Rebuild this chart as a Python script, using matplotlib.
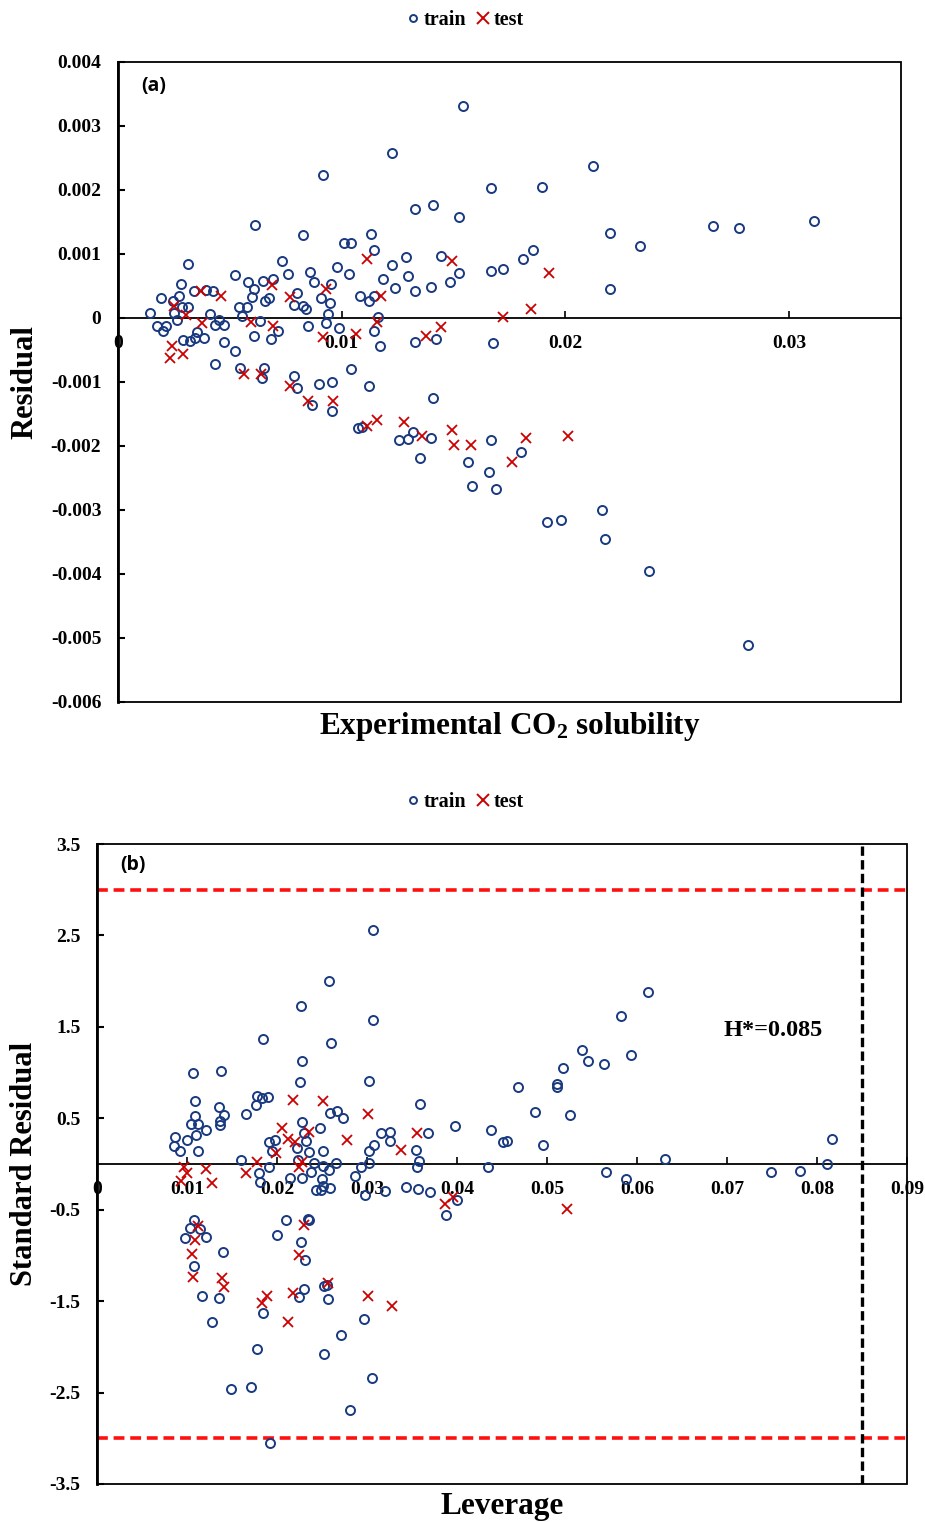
import matplotlib
matplotlib.use('Agg')
import matplotlib.pyplot as plt
from matplotlib.lines import Line2D
from matplotlib.patches import Rectangle

plt.rcParams['mathtext.fontset'] = 'custom'
plt.rcParams['mathtext.rm'] = 'Liberation Serif:bold'
plt.rcParams['mathtext.it'] = 'Liberation Serif:bold'
plt.rcParams['mathtext.bf'] = 'Liberation Serif:bold'

# ---------------- Panel (a) data ----------------
a_train_x = [0.00143,0.00173,0.00202,0.00214,0.00192,0.00244,0.00251,0.00262,0.00274,0.00281,
             0.00286,0.00314,0.00311,0.00292,0.00321,0.00344,0.00353,0.00383,0.00341,0.00393,
             0.00423,0.00412,0.00433,0.00452,0.00475,0.00475,0.00434,0.00522,0.00524,0.00542,
             0.00554,0.00576,0.00583,0.00597,0.00606,0.00606,0.00634,0.00646,0.00656,0.00675,
             0.00686,0.00695,0.00716,0.00735,0.00758,0.00787,0.00799,0.00643,0.00653,0.00545,
             0.00787,0.00798,0.00612,
             0.00827,0.00917,0.00827,0.00842,0.00850,0.00858,0.00876,0.00908,0.00929,0.00939,
             0.00949,0.00951,0.00981,0.00989,0.01010,0.01043,0.01031,0.01082,0.01122,0.01144,
             0.01133,0.01144,0.01164,0.01144,0.01171,0.01184,0.01226,0.01238,0.01286,0.01296,
             0.01327,0.01399,0.01442,0.01482,0.01524,0.01667,0.01719,0.01811,0.01854,0.01327,
             0.01420,0.01677,0.01226,0.01542,0.01667,0.01896,0.01327,0.01409,0.01524,
             0.01040,0.00899,0.00958,0.01122,0.01409,0.00866,0.00958,0.01073,0.01092,0.01256,
             0.01296,0.01318,0.01400,0.01350,0.01667,0.01564,0.01658,0.01802,
             0.02124,0.02659,0.02775,0.03113,0.02198,0.02335,0.02198,0.01583,0.01689,0.02165,
             0.01917,0.01979,0.02175,0.02375,0.02818]
a_train_y = [0.000073,-0.000125,-0.000198,-0.00012,0.000308,0.00027,0.000073,-0.000031,0.000344,0.000527,
             0.000177,0.000177,0.000839,-0.000344,-0.000359,-0.000317,-0.000214,-0.000308,0.000427,0.000438,
             0.000422,0.000058,-0.000109,-0.000031,-0.000109,-0.00037,-0.000719,0.000667,-0.000511,0.000167,
             0.000031,0.000167,0.000567,0.000323,0.000453,-0.000277,-0.000042,0.000578,0.000266,0.000308,
             -0.000333,0.000605,-0.000203,0.000891,0.000683,0.000203,0.000386,-0.000933,-0.000786,-0.000786,
             -0.000902,-0.0011,0.00145,
             0.00129,0.00223,0.000188,0.000141,-0.000125,0.000719,0.000563,0.00032,-0.000083,0.0000625,
             0.000239,0.000527,0.000802,-0.000161,0.00117,0.00117,0.000695,0.000336,0.000266,0.000344,
             0.00131,0.00107,0.000011,-0.000198,-0.000438,0.000605,0.000828,0.000473,0.000948,0.000656,
             0.000417,0.00048,0.000973,0.000563,0.000708,0.00073,0.000766,0.000917,0.00106,-0.00038,
             -0.000333,-0.000395,0.00258,0.00331,0.00203,0.00205,0.00171,0.00176,0.00158,
             -0.000802,-0.00103,-0.001,-0.00106,-0.00125,-0.00136,-0.00146,-0.00172,-0.0017,-0.00191,
             -0.00189,-0.00178,-0.00188,-0.00218,-0.0019,-0.00225,-0.00241,-0.0021,
             0.00238,0.00144,0.0014,0.00151,0.00133,0.00113,0.000453,-0.00263,-0.00267,-0.003,
             -0.00319,-0.00316,-0.00345,-0.00396,-0.00511]
a_test_x = [0.00251,0.00304,0.00371,0.00374,0.0046,0.00594,0.00688,0.00695,0.00768,0.00929,
            0.00917,0.01063,0.01112,0.01156,0.01174,0.00241,0.00233,0.00292,0.00564,0.00638,
            0.00769,0.0085,0.00961,0.01494,0.01925,0.0172,0.01844,0.01378,0.01442,0.01115,
            0.01156,0.01278,0.0136,0.01494,0.01501,0.01576,0.01825,0.0201,0.01762]
a_test_y = [0.000188,0.000047,0.000427,-0.000083,0.000344,-0.000067,0.000516,-0.000125,0.000333,0.000448,
            -0.000302,-0.000255,0.000917,-0.000067,0.000348,-0.000438,-0.00063,-0.000567,-0.000875,-0.000875,
            -0.00106,-0.0013,-0.0013,0.000891,0.000698,0.000011,0.000145,-0.000281,-0.000145,-0.00168,
            -0.0016,-0.00162,-0.00184,-0.00175,-0.00198,-0.00198,-0.00188,-0.00184,-0.00225]
a_xticks = [0, 0.01, 0.02, 0.03]
a_xticklabels = ['0', '0.01', '0.02', '0.03']
a_yticks = [0.004, 0.003, 0.002, 0.001, 0, -0.001, -0.002, -0.003, -0.004, -0.005, -0.006]
a_yticklabels = ['0.004', '0.003', '0.002', '0.001', '0', '-0.001', '-0.002', '-0.003', '-0.004', '-0.005', '-0.006']

# ---------------- Panel (b) data ----------------
b_train_x = [0.00872,0.00861,0.0092,0.01001,0.01084,0.01087,0.01046,0.0112,0.01101,0.01206,
             0.0112,0.01354,0.0141,0.01362,0.01362,0.01659,0.01764,0.01775,0.01837,0.01901,
             0.02254,0.01912,0.01975,0.01942,0.01603,0.018,0.01812,0.01912,0.02146,0.02221,
             0.02235,0.02276,0.02283,0.02302,
             0.01076,0.01031,0.01139,0.00983,0.01206,0.01402,0.01076,0.01162,0.01354,0.0128,
             0.02105,0.02004,0.02265,0.02313,0.02302,0.02239,0.01848,0.01781,0.01485,0.01708,
             0.01923,0.02339,0.01068,0.0138,0.01845,
             0.03071,0.02581,0.02272,0.03063,0.026,0.02283,0.03027,0.03592,0.03677,0.02589,
             0.02662,0.02737,0.02477,0.02321,0.02358,0.02506,0.02377,0.02414,0.02514,0.02499,
             0.02433,0.02488,0.02506,0.02592,0.02573,0.02655,0.02867,0.02934,0.03027,0.02979,
             0.03027,0.03082,0.03157,0.0325,0.0325,0.03202,0.03428,0.0354,0.03576,0.03554,
             0.03565,0.03703,0.03882,0.02358,0.02525,0.02551,0.0257,0.02968,0.02715,0.02522,
             0.03052,0.02815,
             0.06123,0.05825,0.05394,0.05936,0.0546,0.05635,0.05182,0.05108,0.05115,0.0468,
             0.04866,0.05256,0.03974,0.04383,0.04959,0.04513,0.04551,0.04346,0.06308,0.05658,
             0.05877,0.08166,0.08107,0.07489,0.07806,0.04]
b_train_y = [0.294,0.202,0.144,0.265,0.684,0.52,0.437,0.437,0.319,0.367,
             0.137,0.618,0.538,0.465,0.426,0.546,0.64,0.749,0.721,0.732,
             0.892,0.24,0.265,0.137,0.046,-0.093,-0.202,-0.034,-0.148,0.174,
             0.046,-0.148,0.454,0.338,
             -0.61,-0.695,-0.712,-0.804,-0.793,-0.964,-1.121,-1.442,-1.467,-1.723,
             -0.61,-0.775,-0.848,-1.048,-1.369,-1.456,-1.625,-2.025,-2.463,-2.441,
             -3.054,-0.603,0.995,1.012,1.367,
             2.563,2.007,1.73,1.575,1.326,1.123,0.903,0.653,0.334,0.561,
             0.584,0.508,0.399,0.249,0.13,0.142,-0.089,0.015,-0.02,-0.165,
             -0.281,-0.281,-0.243,-0.261,-0.062,0.008,-0.127,-0.038,0.015,-0.339,
             0.142,0.211,0.341,0.353,0.249,-0.3,-0.254,0.15,0.038,-0.031,
             -0.269,-0.307,-0.558,-0.615,-1.338,-1.318,-1.473,-1.696,-1.869,-2.08,
             -2.338,-2.691,
             1.876,1.621,1.242,1.187,1.126,1.096,1.049,0.877,0.841,0.837,
             0.574,0.535,0.415,0.374,0.21,0.246,0.257,-0.034,0.057,-0.089,
             -0.159,0.276,0.002,-0.085,-0.074,-0.392]
b_test_x = [0.02183,0.0206,0.02127,0.02202,0.01993,0.01781,0.01659,0.00972,0.01001,0.00934,
            0.01213,0.01273,0.02246,0.01124,0.01084,0.01057,0.01065,0.01391,0.0141,0.01886,
            0.0183,0.0218,0.02124,0.02302,0.02246,0.02506,0.03008,0.02358,0.02778,0.0338,
            0.03554,0.02283,0.03863,0.02562,0.03008,0.0328,0.03955,0.0522]
b_test_y = [0.702,0.393,0.272,0.246,0.119,0.027,-0.1,-0.038,-0.1,-0.191,
            -0.056,-0.209,-0.034,-0.676,-0.829,-0.986,-1.231,-1.248,-1.347,-1.442,
            -1.522,-1.412,-1.723,-0.665,-0.993,0.691,0.546,0.353,0.265,0.15,
            0.334,0.026,-0.434,-1.3,-1.442,-1.549,-0.356,-0.49]
b_xticks = [0, 0.01, 0.02, 0.03, 0.04, 0.05, 0.06, 0.07, 0.08, 0.09]
b_xticklabels = ['0', '0.01', '0.02', '0.03', '0.04', '0.05', '0.06', '0.07', '0.08', '0.09']
b_yticks = [3.5, 2.5, 1.5, 0.5, -0.5, -1.5, -2.5, -3.5]
b_yticklabels = ['3.5', '2.5', '1.5', '0.5', '-0.5', '-1.5', '-2.5', '-3.5']
h_star = 0.085
sr_limit = 3

# ---------------- styling ----------------
NAVY = '#1a3a80'
RED = '#cc0000'
SERIF = 'Liberation Serif'
tick_font = dict(family=SERIF, weight='bold', size=14)

fig = plt.figure(figsize=(9.25, 15.22), dpi=100)
ax_a = fig.add_axes([118/925, 1-702/1522, 783/925, 640/1522])
ax_b = fig.add_axes([97/925, 1-1484/1522, 810/925, 640/1522])


def style(ax, xticks, xlabels, yticks, ylabels):
    for s in ['top', 'right']:
        ax.spines[s].set_visible(False)
    ax.spines['bottom'].set_position(('data', 0))
    ax.spines['bottom'].set_linewidth(1.3)
    ax.spines['left'].set_linewidth(2.0)
    ax.add_patch(Rectangle((0, 0), 1, 1, transform=ax.transAxes, fill=False,
                           lw=1.3, ec='black', clip_on=False, zorder=6))
    ax.set_xticks(xticks)
    ax.set_xticklabels(xlabels, fontdict=tick_font)
    ax.set_yticks(yticks)
    ax.set_yticklabels(ylabels, fontdict=tick_font)
    ax.tick_params(axis='x', direction='in', length=5, width=1.2, pad=12)
    ax.tick_params(axis='y', direction='in', length=5, width=1.5, pad=12)


# Panel (a)
ax_a.plot(a_train_x, a_train_y, linestyle='none', marker='o', ms=6.5, mfc='none',
          mec=NAVY, mew=1.4, zorder=3)
ax_a.plot(a_test_x, a_test_y, linestyle='none', marker='x', ms=7.5, mec=RED,
          mew=1.3, zorder=4)
ax_a.set_xlim(0, 0.035)
ax_a.set_ylim(-0.006, 0.004)
style(ax_a, a_xticks, a_xticklabels, a_yticks, a_yticklabels)
ax_a.set_xlabel(r'Experimental CO$_{2}$ solubility', family=SERIF, weight='bold', fontsize=22.5)
ax_a.xaxis.set_label_coords(0.5, -0.012)
ax_a.set_ylabel('Residual', family=SERIF, weight='bold', fontsize=22)
ax_a.yaxis.set_label_coords(-0.100, 0.5)
ax_a.text(0.045, 0.963, '(a)', transform=ax_a.transAxes, ha='center', va='center',
          family='Open Sans', weight='bold', fontsize=14)

# Panel (b)
ax_b.plot(b_train_x, b_train_y, linestyle='none', marker='o', ms=6.5, mfc='none',
          mec=NAVY, mew=1.4, zorder=3)
ax_b.plot(b_test_x, b_test_y, linestyle='none', marker='x', ms=7.5, mec=RED,
          mew=1.3, zorder=4)
ax_b.axhline(sr_limit, color='#ff1010', lw=2.6, dashes=(3.0, 1.6), zorder=2)
ax_b.axhline(-sr_limit, color='#ff1010', lw=2.6, dashes=(3.0, 1.6), zorder=2)
ax_b.axvline(h_star, color='black', lw=2.4, dashes=(2.8, 1.3), zorder=2)
ax_b.set_xlim(0, 0.09)
ax_b.set_ylim(-3.5, 3.5)
style(ax_b, b_xticks, b_xticklabels, b_yticks, b_yticklabels)
ax_b.set_xlabel('Leverage', family=SERIF, weight='bold', fontsize=22.5)
ax_b.xaxis.set_label_coords(0.5, -0.012)
ax_b.set_ylabel('Standard Residual', family=SERIF, weight='bold', fontsize=22)
ax_b.yaxis.set_label_coords(-0.072, 0.5)
ax_b.text(0.044, 0.967, '(b)', transform=ax_b.transAxes, ha='center', va='center',
          family='Open Sans', weight='bold', fontsize=14)
ax_b.text(0.835, 0.709, 'H*=0.085', transform=ax_b.transAxes, ha='center', va='center',
          family=SERIF, weight='bold', fontsize=17.5)

# Legends
handles = [Line2D([], [], linestyle='none', marker='o', ms=5, mfc='none', mec=NAVY, mew=1.4),
           Line2D([], [], linestyle='none', marker='x', ms=8, mec=RED, mew=1.4)]
labels = ['train', 'test']
for ypix in (20, 802):
    fig.legend(handles, labels, loc='center', bbox_to_anchor=(465/925, 1-ypix/1522),
               ncol=2, frameon=False, handlelength=0.7, handletextpad=0.15,
               columnspacing=0.5, prop=dict(family=SERIF, weight='bold', size=14.5))

fig.savefig('out.png', dpi=100)
